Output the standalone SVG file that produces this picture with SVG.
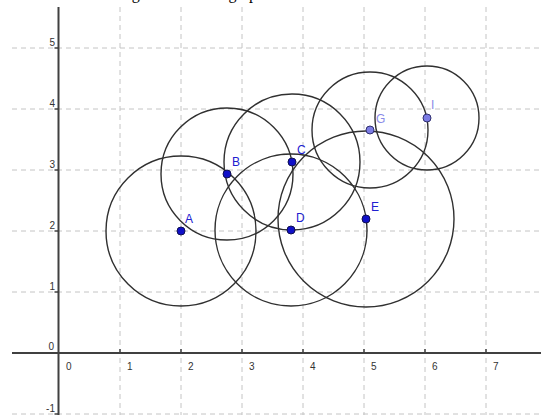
<svg xmlns="http://www.w3.org/2000/svg" width="541" height="415" viewBox="0 0 541 415">
<style>
.grid{stroke:#c4c4c4;stroke-width:1;stroke-dasharray:5,4;fill:none}
.axis{stroke:#404040;stroke-width:2;fill:none}
.tick{stroke:#404040;stroke-width:1.5}
.num{font-family:"Liberation Sans",Arial,sans-serif;font-size:10px;fill:#333}
.circ{fill:none;stroke:#303030;stroke-width:1.4}
.pt{fill:#1010c8;stroke:#101050;stroke-width:1}
.pt2{fill:#7c7ce4;stroke:#303070;stroke-width:1}
.lbl{font-family:"Liberation Sans",Arial,sans-serif;font-size:12px;fill:#2020d0}
.lbl2{font-family:"Liberation Sans",Arial,sans-serif;font-size:12px;fill:#8a8ae8}
.cap{font-family:"Liberation Serif","Times New Roman",serif;font-size:16px;fill:#000}
</style>
<rect width="541" height="415" fill="#fff"/>
<text class="cap" x="52" y="-1" word-spacing="3">The resulting intersection graph</text>
<g id="grid">
<line class="grid" x1="120" y1="7" x2="120" y2="415"/>
<line class="grid" x1="181" y1="7" x2="181" y2="415"/>
<line class="grid" x1="242" y1="7" x2="242" y2="415"/>
<line class="grid" x1="303" y1="7" x2="303" y2="415"/>
<line class="grid" x1="364" y1="7" x2="364" y2="415"/>
<line class="grid" x1="425" y1="7" x2="425" y2="415"/>
<line class="grid" x1="486" y1="7" x2="486" y2="415"/>
<line class="grid" x1="12" y1="48" x2="541" y2="48"/>
<line class="grid" x1="12" y1="109" x2="541" y2="109"/>
<line class="grid" x1="12" y1="170" x2="541" y2="170"/>
<line class="grid" x1="12" y1="231" x2="541" y2="231"/>
<line class="grid" x1="12" y1="292" x2="541" y2="292"/>
<line class="grid" x1="12" y1="414" x2="541" y2="414"/>
</g>
<g id="axes">
<line class="axis" x1="58.5" y1="7" x2="58.5" y2="415"/>
<line class="axis" x1="12" y1="353" x2="541" y2="353"/>
<g class="tick">
<line x1="120" y1="349" x2="120" y2="353"/>
<line x1="181" y1="349" x2="181" y2="353"/>
<line x1="242" y1="349" x2="242" y2="353"/>
<line x1="303" y1="349" x2="303" y2="353"/>
<line x1="364" y1="349" x2="364" y2="353"/>
<line x1="425" y1="349" x2="425" y2="353"/>
<line x1="486" y1="349" x2="486" y2="353"/>
<line x1="54.5" y1="48" x2="58.5" y2="48"/>
<line x1="54.5" y1="109" x2="58.5" y2="109"/>
<line x1="54.5" y1="170" x2="58.5" y2="170"/>
<line x1="54.5" y1="231" x2="58.5" y2="231"/>
<line x1="54.5" y1="292" x2="58.5" y2="292"/>
<line x1="54.5" y1="414" x2="58.5" y2="414"/>
</g>
<text class="num" x="66" y="370">0</text>
<text class="num" x="127" y="370">1</text>
<text class="num" x="188" y="370">2</text>
<text class="num" x="249" y="370">3</text>
<text class="num" x="310" y="370">4</text>
<text class="num" x="371" y="370">5</text>
<text class="num" x="432" y="370">6</text>
<text class="num" x="493" y="370">7</text>
<text class="num" x="55" y="46" text-anchor="end">5</text>
<text class="num" x="55" y="107" text-anchor="end">4</text>
<text class="num" x="55" y="168" text-anchor="end">3</text>
<text class="num" x="55" y="229" text-anchor="end">2</text>
<text class="num" x="55" y="290" text-anchor="end">1</text>
<text class="num" x="54" y="350" text-anchor="end">0</text>
<text class="num" x="55" y="412" text-anchor="end">-1</text>
</g>
<g id="circles">
<circle class="circ" cx="181" cy="231" r="75"/>
<circle class="circ" cx="227" cy="174" r="66"/>
<circle class="circ" cx="292" cy="162" r="68"/>
<circle class="circ" cx="291" cy="230" r="76"/>
<circle class="circ" cx="366" cy="219" r="88"/>
<circle class="circ" cx="370" cy="130" r="58"/>
<circle class="circ" cx="427" cy="118" r="52"/>
</g>
<g id="A"><circle class="pt" cx="181" cy="231" r="4"/><text class="lbl" x="185" y="223">A</text></g>
<g id="B"><circle class="pt" cx="227" cy="174" r="4"/><text class="lbl" x="232" y="166">B</text></g>
<g id="C"><circle class="pt" cx="292" cy="162" r="4"/><text class="lbl" x="297" y="154">C</text></g>
<g id="D"><circle class="pt" cx="291" cy="230" r="4"/><text class="lbl" x="296" y="222">D</text></g>
<g id="E"><circle class="pt" cx="366" cy="219" r="4"/><text class="lbl" x="371" y="211">E</text></g>
<g id="G"><circle class="pt2" cx="370" cy="130" r="4"/><text class="lbl2" x="376" y="123">G</text></g>
<g id="I"><circle class="pt2" cx="427" cy="118" r="4"/><text class="lbl2" x="431" y="109">I</text></g>
</svg>
